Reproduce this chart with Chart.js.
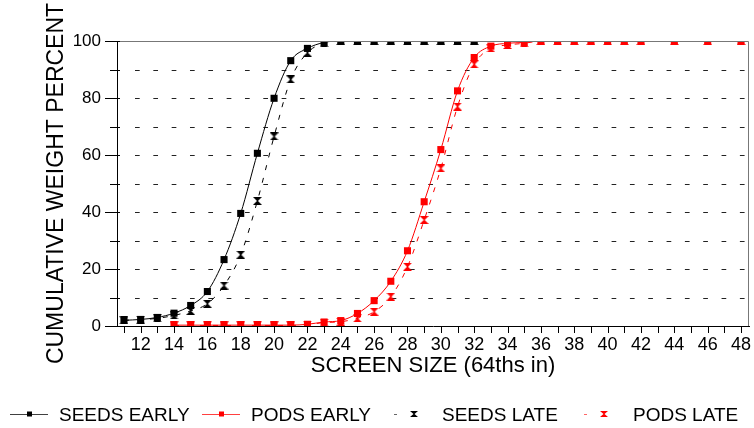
<!DOCTYPE html>
<html><head><meta charset="utf-8">
<script src="https://cdn.jsdelivr.net/npm/chart.js@4/dist/chart.umd.min.js"></script>
<style>html,body{margin:0;padding:0;background:#fff}</style>
</head><body>
<canvas id="c" width="754" height="428"></canvas>
<script>
// ---- data ----
const seedSizes = [11,12,13,14,15,16,17,18,19,20,21,22,23,24,25,26,27,28,29,30,31,32];
const seedsEarly = [2.0,2.3,3.0,4.5,7.2,12.1,23.3,39.5,60.6,79.9,93.1,97.4,99.5,100,100,100,100,100,100,100,100,100];
const seedsLate  = [2.0,2.2,2.7,3.7,5.3,7.8,14.2,25.0,43.9,66.5,86.5,95.9,99.2,100,100,100,100,100,100,100,100,100];
const podSizes = [14,15,16,17,18,19,20,21,22,23,24,25,26,27,28,29,30,31,32,33,34,35,36,37,38,39,40,41,42,44,46,48];
const podsEarly = [0.3,0.3,0.3,0.3,0.3,0.3,0.3,0.3,0.6,1.4,1.9,4.4,8.9,15.7,26.4,43.6,61.9,82.5,94.2,98.2,99.2,99.5,100,100,100,100,100,100,100,100,100,100];
const podsLate  = [0.2,0.2,0.2,0.2,0.2,0.2,0.2,0.2,0.5,1.2,1.5,2.7,5.0,10.3,20.8,37.2,55.3,77.0,91.8,97.4,98.6,99.2,100,100,100,100,100,100,100,100,100,100];
const seriesNames = ['SEEDS EARLY','PODS EARLY','SEEDS LATE','PODS LATE'];
const xTickValues = [11,12,13,14,15,16,17,18,19,20,21,22,23,24,25,26,27,28,29,30,31,32,33,34,35,36,37,38,39,40,41,42,43,44,45,46,47,48];
const yTickValues = [0,10,20,30,40,50,60,70,80,90,100];
const xTitle = 'SCREEN SIZE (64ths in)';
const yTitle = 'CUMULATIVE WEIGHT PERCENT';

const FAMILY = '"Liberation Sans", Arial, Helvetica, sans-serif';

function hourglass(color, w, h) {
  const c = document.createElement('canvas');
  c.width = w; c.height = h;
  const g = c.getContext('2d');
  g.fillStyle = color;
  g.beginPath();
  g.moveTo(0, 0); g.lineTo(w, 0); g.lineTo(w/2 + 0.5, h/2); g.lineTo(w, h);
  g.lineTo(0, h); g.lineTo(w/2 - 0.5, h/2); g.closePath();
  g.fill();
  return c;
}
const hgBlack = hourglass('#000', 9, 8);
const hgRed = hourglass('#ff0000', 9, 8);
const hgBlackS = hourglass('#000', 8, 6);
const hgRedS = hourglass('#ff0000', 8, 6);

const pts = (xs, ys) => xs.map((x, i) => ({x: x, y: ys[i]}));

const decor = {
  id: 'decor',
  beforeDatasetsDraw(chart) {
    const {ctx, chartArea: a, scales: {y}} = chart;
    ctx.save();
    // dashed horizontal grid
    ctx.strokeStyle = '#222';
    ctx.lineWidth = 1;
    ctx.setLineDash([4.7, 13.63]);
    ctx.lineDashOffset = 18.33 - 13;
    yTickValues.forEach(v => {
      if (v === 0 || v === 100) return;
      const py = Math.round(y.getPixelForValue(v)) + 0.5;
      ctx.beginPath(); ctx.moveTo(a.left + 5, py); ctx.lineTo(a.right, py); ctx.stroke();
    });
    ctx.restore();
  },
  afterDatasetsDraw(chart) {
    const {ctx, chartArea: a, scales: {x, y}} = chart;
    ctx.save();
    // top/right frame
    ctx.strokeStyle = '#777';
    ctx.lineWidth = 1;
    ctx.beginPath();
    ctx.moveTo(a.left, Math.round(a.top) + 0.5);
    ctx.lineTo(Math.round(a.right) - 0.5, Math.round(a.top) + 0.5);
    ctx.lineTo(Math.round(a.right) - 0.5, a.bottom);
    ctx.stroke();
    // tick marks
    ctx.strokeStyle = '#000';
    yTickValues.forEach(v => {
      const py = Math.round(y.getPixelForValue(v)) + 0.5;
      const len = v % 20 === 0 ? 12 : 7;
      ctx.beginPath(); ctx.moveTo(a.left - len, py); ctx.lineTo(a.left + 3, py); ctx.stroke();
    });
    xTickValues.forEach(v => {
      const px = Math.round(x.getPixelForValue(v)) + 0.5;
      ctx.beginPath(); ctx.moveTo(px, a.bottom); ctx.lineTo(px, a.bottom + 7); ctx.stroke();
    });
    ctx.restore();
  },
  afterDraw(chart) {
    const {ctx} = chart;
    const ds = chart.data.datasets;
    const layout = [
      {x0: 10, textX: 59},
      {x0: 202, textX: 251},
      {x0: 394, textX: 442},
      {x0: 584, textX: 633}
    ];
    const ly = 414.5;
    ctx.save();
    ctx.font = '19px ' + FAMILY;
    ctx.textBaseline = 'middle';
    ctx.fillStyle = '#000';
    ds.forEach((d, i) => {
      const L = layout[i];
      ctx.strokeStyle = d.borderColor;
      ctx.fillStyle = d.borderColor;
      ctx.lineWidth = 1;
      if (!d.borderDash || d.borderDash.length === 0) {
        ctx.globalAlpha = 0.75;
        ctx.beginPath(); ctx.moveTo(L.x0, ly); ctx.lineTo(L.x0 + 38, ly); ctx.stroke();
        ctx.globalAlpha = 1;
        ctx.fillRect(L.x0 + 17, ly - 3, 5, 5);
      } else {
        ctx.globalAlpha = 0.6;
        ctx.beginPath(); ctx.moveTo(L.x0, ly); ctx.lineTo(L.x0 + 3, ly); ctx.stroke();
        ctx.globalAlpha = 1;
        const img = d.borderColor === '#000000' ? hgBlackS : hgRedS;
        ctx.drawImage(img, L.x0 + 16, Math.round(ly - 3.5));
      }
      ctx.fillStyle = '#000';
      ctx.fillText(seriesNames[i], L.textX, ly + 1.5);
    });
    ctx.restore();
  }
};

new Chart(document.getElementById('c'), {
  type: 'line',
  data: {
    datasets: [
      {label: seriesNames[0], data: pts(seedSizes, seedsEarly), borderColor: '#000000', backgroundColor: '#000000',
       borderWidth: 1, pointStyle: 'rect', pointRadius: 5, pointBorderWidth: 0, cubicInterpolationMode: 'monotone', clip: 0, order: 2},
      {label: seriesNames[1], data: pts(podSizes, podsEarly), borderColor: '#ff0000', backgroundColor: '#ff0000',
       borderWidth: 1, pointStyle: 'rect', pointRadius: 5, pointBorderWidth: 0, cubicInterpolationMode: 'monotone', clip: 0, order: 3},
      {label: seriesNames[2], data: pts(seedSizes, seedsLate), borderColor: '#000000', backgroundColor: '#000000',
       borderWidth: 1, borderDash: [5, 8], pointStyle: hgBlack, pointRadius: 5, pointBorderWidth: 0, cubicInterpolationMode: 'monotone', clip: 0, order: 0},
      {label: seriesNames[3], data: pts(podSizes, podsLate), borderColor: '#ff0000', backgroundColor: '#ff0000',
       borderWidth: 1, borderDash: [5, 8], pointStyle: hgRed, pointRadius: 5, pointBorderWidth: 0, cubicInterpolationMode: 'monotone', clip: 0, order: 1}
    ]
  },
  options: {
    responsive: false,
    animation: false,
    devicePixelRatio: 1,
    layout: {padding: {top: 41, right: 2, left: 0, bottom: 47}},
    plugins: {legend: {display: false}, tooltip: {enabled: false}},
    scales: {
      x: {
        type: 'linear', min: 10.582, max: 48.477,
        afterBuildTicks: s => { s.ticks = xTickValues.map(v => ({value: v})); },
        afterFit: s => { s.height = 55; s.paddingLeft = 0; s.paddingRight = 0; },
        grid: {display: false, drawTicks: false},
        border: {display: true, color: '#000', width: 1},
        ticks: {autoSkip: false, maxRotation: 0, padding: 8, color: '#000', font: {size: 18, family: FAMILY},
                callback: v => (v % 2 === 0 ? String(v) : '')},
        title: {display: true, text: xTitle, color: '#000', font: {size: 22, family: FAMILY}, padding: {top: 0, bottom: 2}}
      },
      y: {
        min: 0, max: 100,
        afterBuildTicks: s => { s.ticks = yTickValues.map(v => ({value: v})); },
        afterFit: s => { s.width = 117; s.paddingTop = 0; s.paddingBottom = 0; },
        grid: {display: false, drawTicks: false},
        border: {display: true, color: '#000', width: 1},
        ticks: {padding: 16, color: '#000', font: {size: 17, family: FAMILY},
                callback: v => (v % 20 === 0 ? String(v) : '')},
        title: {display: true, text: yTitle, color: '#000', font: {size: 23, family: FAMILY}, padding: {top: 43, bottom: 0}}
      }
    }
  },
  plugins: [decor]
});
</script>
</body></html>
